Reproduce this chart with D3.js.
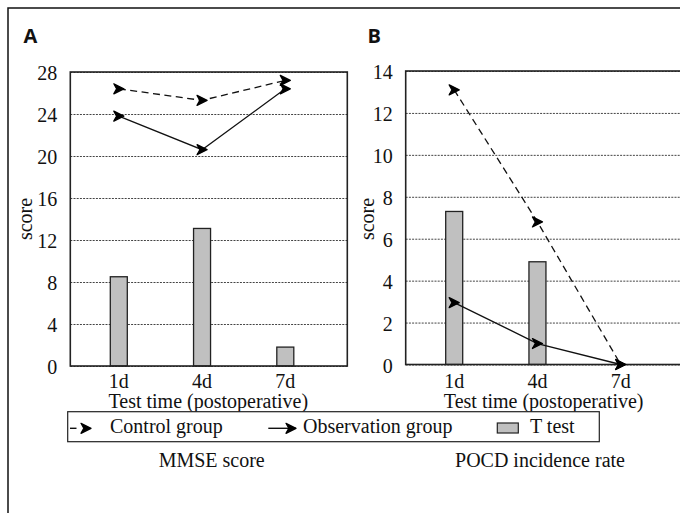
<!DOCTYPE html>
<html>
<head>
<meta charset="utf-8">
<script src="https://cdn.jsdelivr.net/npm/d3@7"></script>
<style>
  body { margin: 0; background: #fff; }
  svg { display: block; }
</style>
</head>
<body>
<div id="chart"></div>
<script>
// data
var categories = ["1d", "4d", "7d"];
var mmseControl = [26.4, 25.3, 27.2];
var mmseObservation = [23.8, 20.6, 26.4];
var mmseTtest = [8.5, 13.1, 1.8];
var pocdControl = [13.1, 6.8, 0];
var pocdObservation = [2.95, 1.0, 0];
var pocdTtest = [7.3, 4.9, null];
var mmseTicks = [0, 4, 8, 12, 16, 20, 24, 28];
var pocdTicks = [0, 2, 4, 6, 8, 10, 12, 14];
var legendLabels = ["Control group", "Observation group", "T test"];

var svgWidth = 680;
var svgHeight = 513;
var serif = "'Liberation Serif', 'Times New Roman', serif";
var fontSize = 20;

var svg = d3.select("#chart")
    .append("svg")
    .attr("width", svgWidth)
    .attr("height", svgHeight);

// outer frame (runs off the right and bottom edge)
svg.append("rect")
    .attr("x", 8).attr("y", 8)
    .attr("width", 720).attr("height", 600)
    .attr("fill", "none")
    .attr("stroke", "#111")
    .attr("stroke-width", 1.5);

function addText(g, x, y, txt, anchor) {
    return g.append("text")
        .attr("x", x)
        .attr("y", y)
        .attr("text-anchor", anchor || "middle")
        .attr("font-family", serif)
        .attr("font-size", fontSize)
        .attr("fill", "#111")
        .text(txt);
}

// thick chevron marker
var markerPath = "M-5,-5 L5,0 L-5,5 L-2.2,0 Z";

function drawMarker(g, x, y) {
    return g.append("path")
        .attr("d", markerPath)
        .attr("transform", `translate(${x},${y})`)
        .attr("fill", "#000")
        .attr("stroke", "#000")
        .attr("stroke-width", 1.3)
        .attr("stroke-linejoin", "round");
}

function drawPanel(opt) {
    var width = 277;
    var height = opt.bottom - opt.top;
    var g = svg.append("g")
        .attr("transform", `translate(${opt.left}, ${opt.top})`);

    var x = d3.scalePoint()
        .domain(categories)
        .range([48.5, 215]);
    var y = d3.scaleLinear()
        .domain([0, opt.ticks[opt.ticks.length - 1]])
        .range([height, 0]);

    // y axis with dotted gridlines
    var leftAxis = d3.axisLeft(y)
        .tickValues(opt.ticks)
        .tickSizeInner(-width)
        .tickSizeOuter(0)
        .tickPadding(13);
    var yAxis = g.append("g").call(leftAxis);
    yAxis.attr("font-family", serif).attr("font-size", fontSize);
    yAxis.select(".domain").remove();
    yAxis.selectAll("line")
        .attr("stroke", "#444")
        .attr("stroke-width", 1)
        .attr("stroke-dasharray", "2,1.2");
    yAxis.selectAll("text")
        .attr("fill", "#111")
        .attr("dy", "0.38em");

    // bars
    var bw = 17;
    g.selectAll("rect.bar")
        .data(opt.bars.map((v, i) => ({ c: categories[i], v: v })).filter(d => d.v !== null))
        .enter()
        .append("rect")
        .attr("class", "bar")
        .attr("x", d => x(d.c) - bw / 2)
        .attr("y", d => y(d.v))
        .attr("width", bw)
        .attr("height", d => height - y(d.v))
        .attr("fill", "#c0c0c0")
        .attr("stroke", "#222")
        .attr("stroke-width", 1.3);

    // frame
    g.append("rect")
        .attr("width", width)
        .attr("height", height)
        .attr("fill", "none")
        .attr("stroke", "#222")
        .attr("stroke-width", 1.6);

    var line = d3.line()
        .x((d, i) => x(categories[i]))
        .y(d => y(d));

    g.append("path")
        .datum(opt.control)
        .attr("d", line)
        .attr("fill", "none")
        .attr("stroke", "#111")
        .attr("stroke-width", 1.3)
        .attr("stroke-dasharray", "7,4.5");
    g.append("path")
        .datum(opt.observation)
        .attr("d", line)
        .attr("fill", "none")
        .attr("stroke", "#111")
        .attr("stroke-width", 1.3);

    [opt.control, opt.observation].forEach(function(series) {
        series.forEach(function(d, i) {
            drawMarker(g, x(categories[i]), y(d));
        });
    });

    // x labels
    categories.forEach(function(c) {
        addText(g, x(c), 388.3 - opt.top, c);
    });
    addText(g, 138, 407.7 - opt.top, "Test time (postoperative)");

    // y title
    svg.append("text")
        .attr("transform", `translate(${opt.scoreX}, 219) rotate(-90)`)
        .attr("text-anchor", "middle")
        .attr("font-family", serif)
        .attr("font-size", fontSize)
        .attr("fill", "#111")
        .text("score");

    // panel letter
    svg.append("text")
        .attr("x", opt.letterX)
        .attr("y", 43)
        .attr("font-family", "'Open Sans', 'DejaVu Sans', sans-serif")
        .attr("font-weight", "bold")
        .attr("font-size", 20)
        .attr("fill", "#111")
        .text(opt.letter);

    addText(svg, opt.captionX, 466.7, opt.caption);
}

drawPanel({
    left: 70.3, top: 72, bottom: 366,
    ticks: mmseTicks,
    bars: mmseTtest, control: mmseControl, observation: mmseObservation,
    letter: "A", letterX: 23.5, scoreX: 32,
    caption: "MMSE score", captionX: 211.7
});
drawPanel({
    left: 405.7, top: 71, bottom: 364.5,
    ticks: pocdTicks,
    bars: pocdTtest, control: pocdControl, observation: pocdObservation,
    letter: "B", letterX: 367.5, scoreX: 373.5,
    caption: "POCD incidence rate", captionX: 540
});

// legend
var legend = svg.append("g");
legend.append("rect")
    .attr("x", 67.7).attr("y", 411.7)
    .attr("width", 531.6).attr("height", 30)
    .attr("fill", "#fff")
    .attr("stroke", "#222")
    .attr("stroke-width", 1.2);

legend.append("line")
    .attr("x1", 70).attr("x2", 76.5)
    .attr("y1", 428.3).attr("y2", 428.3)
    .attr("stroke", "#111").attr("stroke-width", 1.4);
drawMarker(legend, 86, 428.3);
addText(legend, 110, 433, legendLabels[0], "start");

legend.append("line")
    .attr("x1", 268.3).attr("x2", 296)
    .attr("y1", 428.3).attr("y2", 428.3)
    .attr("stroke", "#111").attr("stroke-width", 1.4);
drawMarker(legend, 291, 428.3);
addText(legend, 303, 433, legendLabels[1], "start");

legend.append("rect")
    .attr("x", 497.3).attr("y", 423)
    .attr("width", 21).attr("height", 10)
    .attr("fill", "#c0c0c0")
    .attr("stroke", "#222")
    .attr("stroke-width", 1.2);
addText(legend, 530, 433, legendLabels[2], "start");
</script>
</body>
</html>
